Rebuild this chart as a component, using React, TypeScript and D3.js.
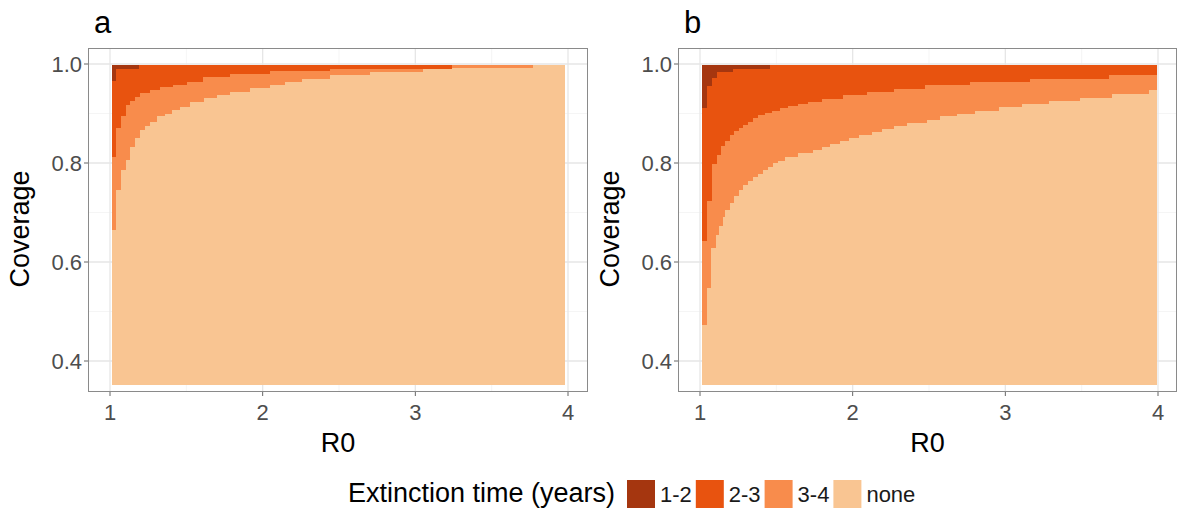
import React from "react";
import * as d3 from "d3";

// axis ticks
const tickR0 = [1, 2, 3, 4];
const minorR0 = [1.5, 2.5, 3.5];
const tickCov = [0.4, 0.6, 0.8, 1.0];
const minorCov = [0.5, 0.7, 0.9];

const categories = ["1-2", "2-3", "3-4", "none"];
const colors = ["#A5360F", "#E8530F", "#F88C4C", "#F9C592"];

// coverage range of the grid
const covTop = 0.997;

// panel a: step boundaries (R0 breakpoints, lower coverage edge of each step)
const aNoneR0 = [1.013, 3.98];
const aNoneCov = [0.352];
const a34R0 = [1.013, 1.039, 1.072, 1.105, 1.131, 1.164, 1.196, 1.229, 1.262, 1.306, 1.36, 1.404, 1.458, 1.524, 1.611, 1.699, 1.786, 1.917, 2.048, 2.146, 2.257, 2.441, 2.703, 3.05, 3.24, 3.77];
const a34Cov = [0.665, 0.745, 0.786, 0.806, 0.833, 0.85, 0.867, 0.875, 0.883, 0.894, 0.9, 0.907, 0.914, 0.924, 0.931, 0.937, 0.944, 0.951, 0.958, 0.964, 0.97, 0.978, 0.984, 0.989, 0.991];
const a23R0 = [1.013, 1.039, 1.072, 1.105, 1.131, 1.164, 1.196, 1.262, 1.327, 1.413, 1.504, 1.609, 1.786, 2.048, 2.441, 3.24];
const a23Cov = [0.813, 0.87, 0.895, 0.917, 0.925, 0.934, 0.941, 0.947, 0.953, 0.958, 0.964, 0.973, 0.98, 0.985, 0.989];
const a12R0 = [1.013, 1.035, 1.19];
const a12Cov = [0.966, 0.989];

// panel b
const bNoneR0 = [1.013, 3.99];
const bNoneCov = [0.352];
const b34R0 = [1.013, 1.041, 1.07, 1.1, 1.124, 1.151, 1.164, 1.194, 1.223, 1.253, 1.282, 1.314, 1.347, 1.38, 1.413, 1.445, 1.478, 1.511, 1.557, 1.642, 1.74, 1.797, 1.851, 1.917, 1.971, 2.037, 2.124, 2.19, 2.266, 2.353, 2.485, 2.572, 2.681, 2.801, 2.954, 3.107, 3.281, 3.489, 3.696, 3.936, 3.99];
const b34Cov = [0.473, 0.548, 0.628, 0.655, 0.672, 0.69, 0.705, 0.72, 0.733, 0.745, 0.755, 0.763, 0.771, 0.778, 0.785, 0.792, 0.799, 0.805, 0.812, 0.82, 0.827, 0.832, 0.838, 0.845, 0.851, 0.856, 0.863, 0.868, 0.875, 0.88, 0.887, 0.894, 0.9, 0.906, 0.913, 0.92, 0.926, 0.932, 0.939, 0.948];
const b23R0 = [1.013, 1.041, 1.074, 1.107, 1.136, 1.162, 1.194, 1.223, 1.253, 1.282, 1.314, 1.347, 1.38, 1.426, 1.47, 1.524, 1.576, 1.642, 1.707, 1.799, 1.936, 2.092, 2.266, 2.473, 2.768, 3.161, 3.674, 3.99];
const b23Cov = [0.642, 0.723, 0.797, 0.817, 0.834, 0.844, 0.856, 0.864, 0.871, 0.877, 0.883, 0.89, 0.896, 0.901, 0.906, 0.911, 0.915, 0.919, 0.924, 0.93, 0.937, 0.943, 0.95, 0.957, 0.964, 0.97, 0.977];
const b12R0 = [1.013, 1.041, 1.075, 1.108, 1.216, 1.458];
const b12Cov = [0.912, 0.955, 0.971, 0.983, 0.99];

const FONT = "'Liberation Sans', Arial, Helvetica, sans-serif";
const panelTop = 48;
const panelBottom = 392;
const y = d3.scaleLinear().domain([0.4, 1.0]).range([361, 64]);

function Panel({ tag, left, right, x0, layers }) {
  const x = d3.scaleLinear().domain([1, 4]).range([x0, x0 + 458]);
  const cx = (left + right) / 2;
  return (
    <g>
      <text x={left + 6} y={33} fontSize={31} fill="#000">{tag}</text>
      <rect x={left} y={panelTop} width={right - left} height={panelBottom - panelTop} fill="#fff" />
      {minorR0.map((v) => (
        <line key={"mx" + v} x1={x(v)} x2={x(v)} y1={panelTop} y2={panelBottom} stroke="#F2F2F2" strokeWidth={0.8} />
      ))}
      {minorCov.map((v) => (
        <line key={"my" + v} x1={left} x2={right} y1={y(v)} y2={y(v)} stroke="#F2F2F2" strokeWidth={0.8} />
      ))}
      {tickR0.map((v) => (
        <line key={"gx" + v} x1={x(v)} x2={x(v)} y1={panelTop} y2={panelBottom} stroke="#E6E6E6" strokeWidth={1.3} />
      ))}
      {tickCov.map((v) => (
        <line key={"gy" + v} x1={left} x2={right} y1={y(v)} y2={y(v)} stroke="#E6E6E6" strokeWidth={1.3} />
      ))}
      {layers.map((layer, li) => (
        <g key={li} shapeRendering="crispEdges">
          {layer.cov.map((c, i) => (
            <rect
              key={i}
              x={x(layer.r0[i])}
              width={x(layer.r0[i + 1]) - x(layer.r0[i]) + 0.4}
              y={y(covTop)}
              height={y(c) - y(covTop)}
              fill={layer.color}
            />
          ))}
        </g>
      ))}
      <rect x={left + 0.5} y={panelTop + 0.5} width={right - left - 1} height={panelBottom - panelTop - 1} fill="none" stroke="#8A8A8A" strokeWidth={1} />
      {tickR0.map((v) => (
        <g key={"tx" + v}>
          <line x1={x(v)} x2={x(v)} y1={panelBottom} y2={panelBottom + 4} stroke="#666" strokeWidth={1} />
          <text x={x(v)} y={420} textAnchor="middle" fontSize={22} fill="#4D4D4D">{v}</text>
        </g>
      ))}
      {tickCov.map((v) => (
        <g key={"ty" + v}>
          <line x1={left - 4} x2={left} y1={y(v)} y2={y(v)} stroke="#666" strokeWidth={1} />
          <text x={left - 6} y={y(v)} dy="0.36em" textAnchor="end" fontSize={22} fill="#4D4D4D">{v.toFixed(1)}</text>
        </g>
      ))}
      <text x={cx} y={452} textAnchor="middle" fontSize={27} fill="#000">R0</text>
      <text transform={`translate(${left - 59},229) rotate(-90)`} textAnchor="middle" fontSize={27} fill="#000">Coverage</text>
    </g>
  );
}

export default function App() {
  const layersA = [
    { r0: aNoneR0, cov: aNoneCov, color: colors[3] },
    { r0: a34R0, cov: a34Cov, color: colors[2] },
    { r0: a23R0, cov: a23Cov, color: colors[1] },
    { r0: a12R0, cov: a12Cov, color: colors[0] },
  ];
  const layersB = [
    { r0: bNoneR0, cov: bNoneCov, color: colors[3] },
    { r0: b34R0, cov: b34Cov, color: colors[2] },
    { r0: b23R0, cov: b23Cov, color: colors[1] },
    { r0: b12R0, cov: b12Cov, color: colors[0] },
  ];

  // legend layout
  const keySize = 28;
  const labelW = (s) => s.length * 10.6;
  let lx = 627;
  const legendItems = categories.map((c, i) => {
    const item = { label: c, color: colors[i], x: lx };
    lx += keySize + 5 + labelW(c) + 4;
    return item;
  });

  return (
    <svg
      width={1181}
      height={512}
      style={{ position: "absolute", left: 0, top: 0, background: "#fff" }}
      fontFamily={FONT}
    >
      <rect width={1181} height={512} fill="#fff" />
      <Panel tag="a" left={88} right={588} x0={110} layers={layersA} />
      <Panel tag="b" left={678} right={1177} x0={700} layers={layersB} />
      <text x={348} y={502} fontSize={27} fill="#000">Extinction time (years)</text>
      {legendItems.map((it) => (
        <g key={it.label}>
          <rect x={it.x} y={480} width={keySize} height={keySize} fill={it.color} />
          <text x={it.x + keySize + 5} y={502} fontSize={22} fill="#1A1A1A">{it.label}</text>
        </g>
      ))}
    </svg>
  );
}
